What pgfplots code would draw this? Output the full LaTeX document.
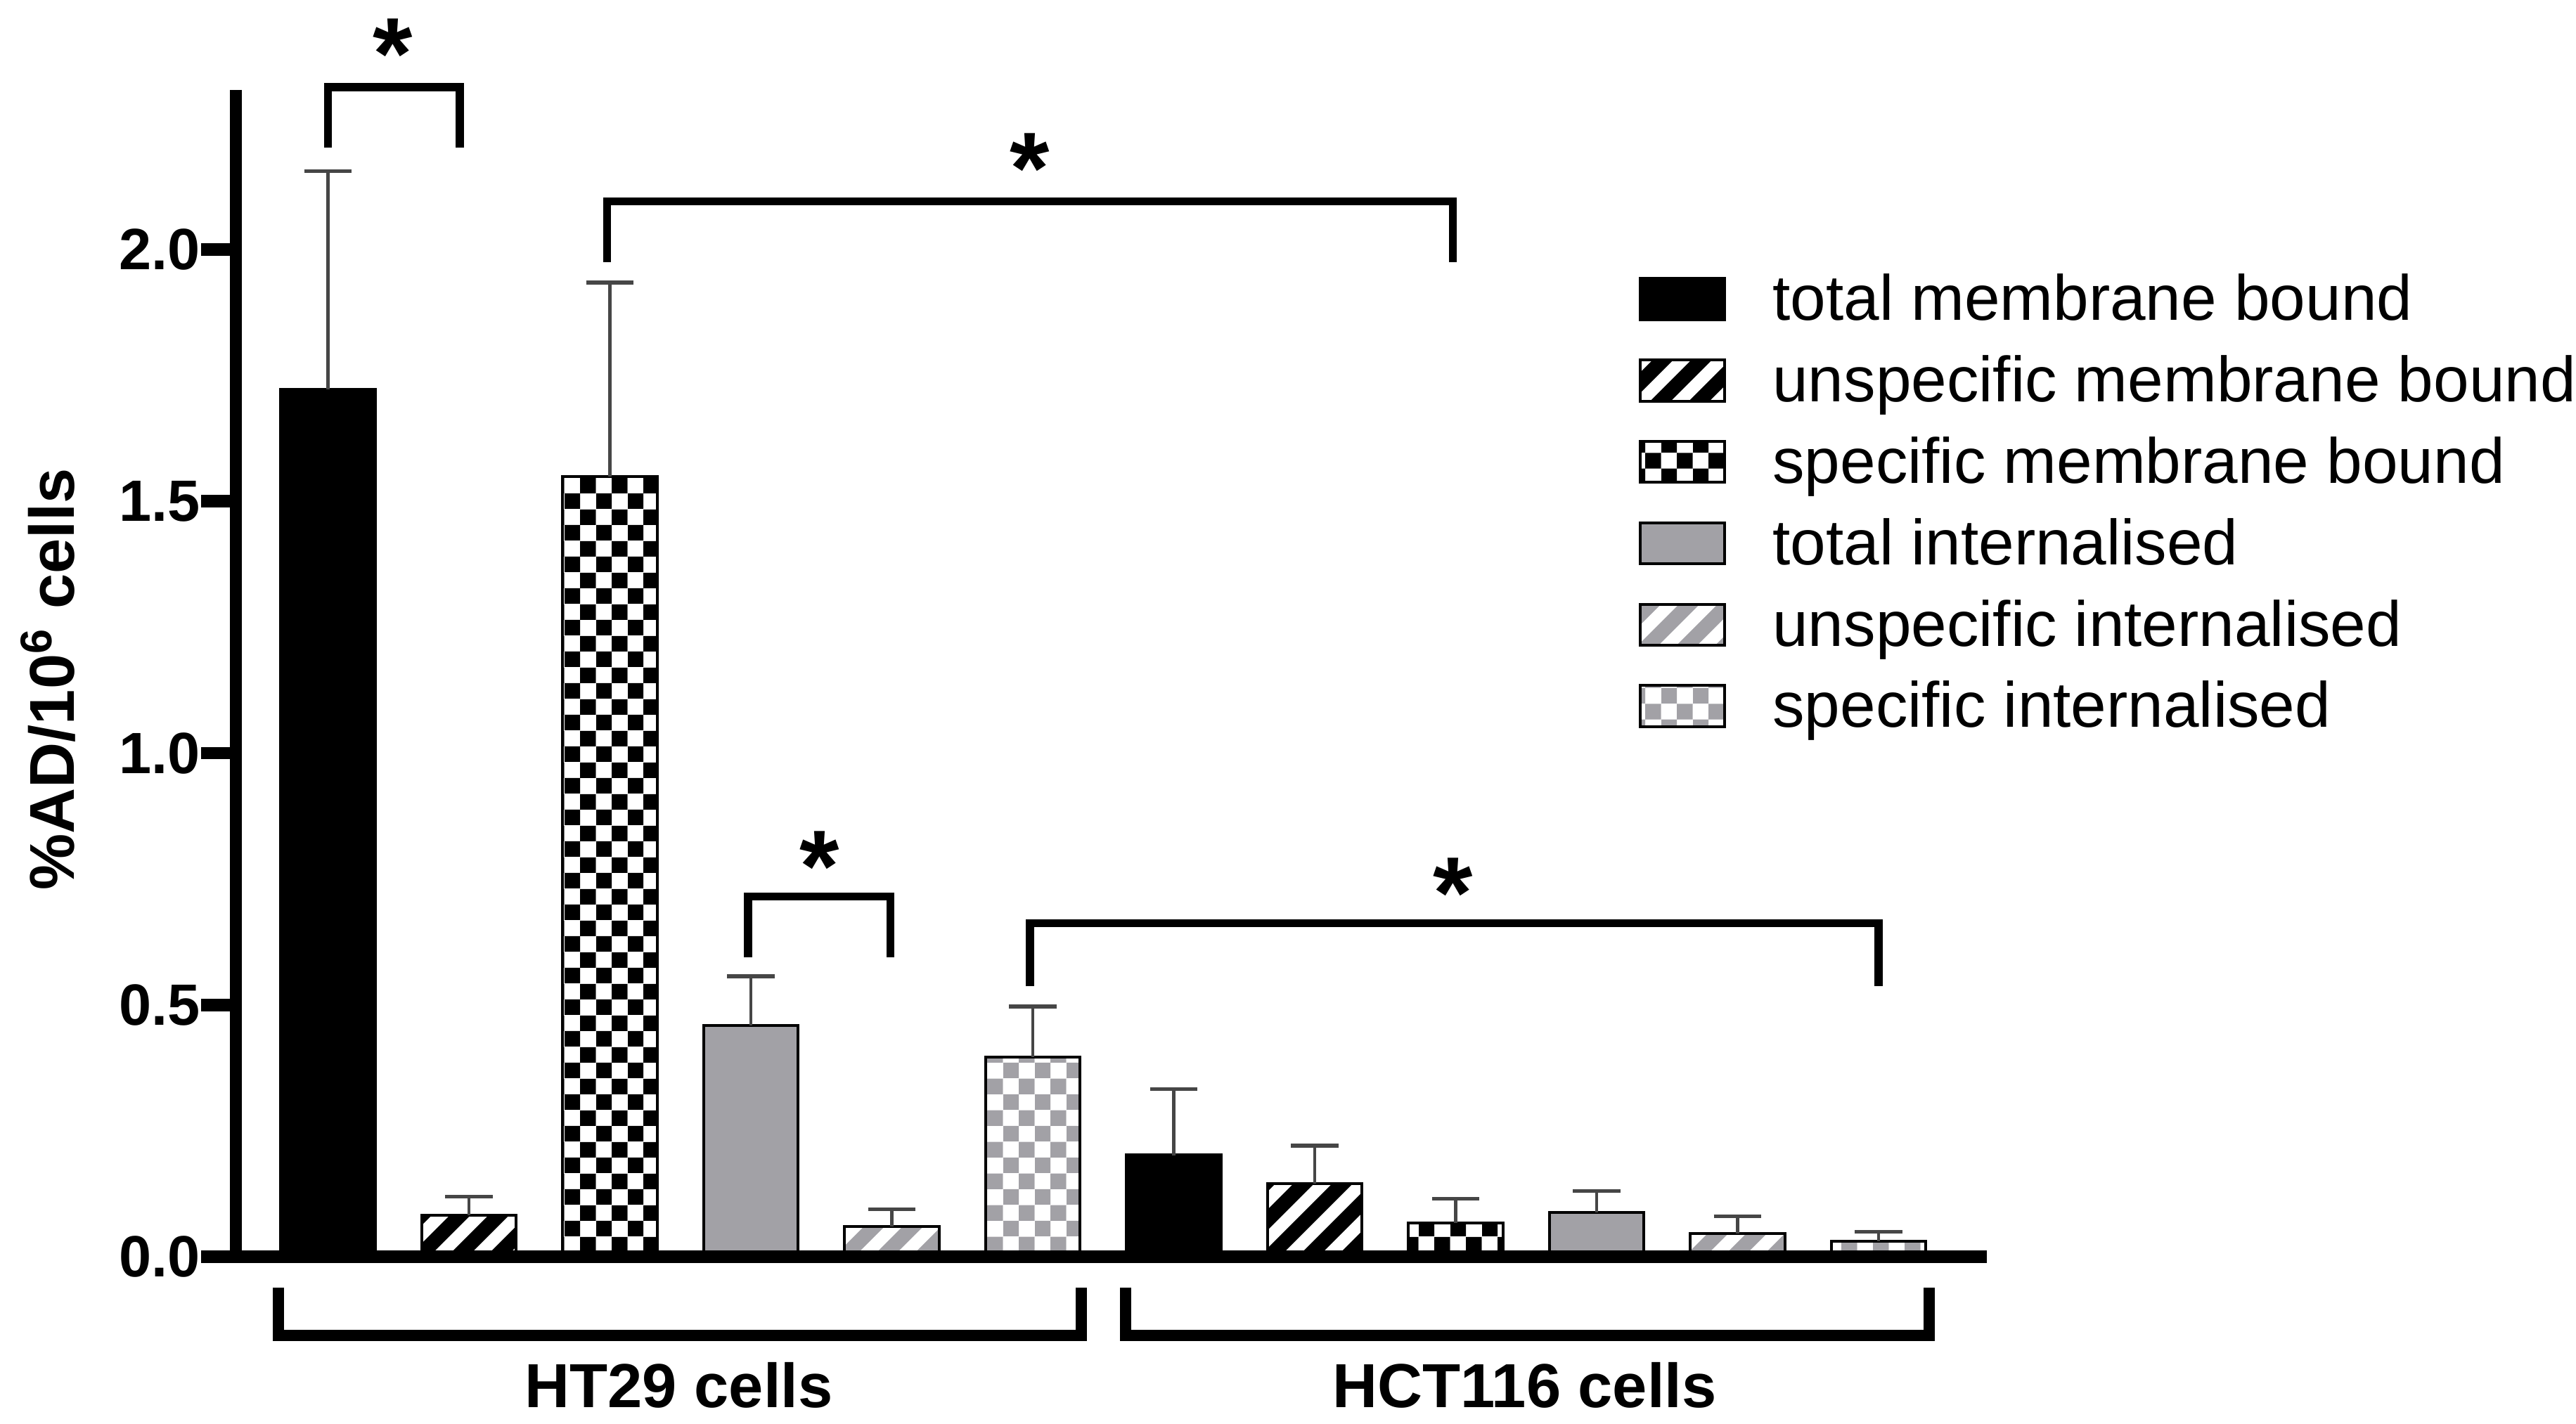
\documentclass[border=0pt]{standalone}
\usepackage{fontspec}
\setmainfont{Liberation Sans}
\usepackage{pgfplots}
\pgfplotsset{compat=1.18}
\usetikzlibrary{patterns}

\definecolor{bargray}{RGB}{162,161,166}
\definecolor{errgray}{RGB}{70,70,70}

% white 45 degree stripes on a coloured ground
\pgfdeclarepatterninherentlycolored{hatchblack}{\pgfpointorigin}{\pgfqpoint{6.83pt}{6.83pt}}{\pgfqpoint{6.83pt}{6.83pt}}{
  \pgfsetfillcolor{black}
  \pgfpathrectangle{\pgfpointorigin}{\pgfqpoint{6.83pt}{6.83pt}}\pgfusepath{fill}
  \pgfsetstrokecolor{white}\pgfsetlinewidth{2.2pt}
  \pgfpathmoveto{\pgfqpoint{-2pt}{-2pt}}\pgfpathlineto{\pgfqpoint{8.83pt}{8.83pt}}
  \pgfpathmoveto{\pgfqpoint{4.83pt}{-2pt}}\pgfpathlineto{\pgfqpoint{8.83pt}{2pt}}
  \pgfpathmoveto{\pgfqpoint{-2pt}{4.83pt}}\pgfpathlineto{\pgfqpoint{2pt}{8.83pt}}
  \pgfusepath{stroke}
}
\pgfdeclarepatterninherentlycolored{hatchgray}{\pgfpointorigin}{\pgfqpoint{6.83pt}{6.83pt}}{\pgfqpoint{6.83pt}{6.83pt}}{
  \pgfsetfillcolor{bargray}
  \pgfpathrectangle{\pgfpointorigin}{\pgfqpoint{6.83pt}{6.83pt}}\pgfusepath{fill}
  \pgfsetstrokecolor{white}\pgfsetlinewidth{2.2pt}
  \pgfpathmoveto{\pgfqpoint{-2pt}{-2pt}}\pgfpathlineto{\pgfqpoint{8.83pt}{8.83pt}}
  \pgfpathmoveto{\pgfqpoint{4.83pt}{-2pt}}\pgfpathlineto{\pgfqpoint{8.83pt}{2pt}}
  \pgfpathmoveto{\pgfqpoint{-2pt}{4.83pt}}\pgfpathlineto{\pgfqpoint{2pt}{8.83pt}}
  \pgfusepath{stroke}
}
% checkerboards on white
\pgfdeclarepatterninherentlycolored{checkblack}{\pgfpointorigin}{\pgfqpoint{5.54pt}{5.54pt}}{\pgfqpoint{5.54pt}{5.54pt}}{
  \pgfsetfillcolor{white}
  \pgfpathrectangle{\pgfpointorigin}{\pgfqpoint{5.54pt}{5.54pt}}\pgfusepath{fill}
  \pgfsetfillcolor{black}
  \pgfpathrectangle{\pgfpointorigin}{\pgfqpoint{2.77pt}{2.77pt}}
  \pgfpathrectangle{\pgfqpoint{2.77pt}{2.77pt}}{\pgfqpoint{2.77pt}{2.77pt}}
  \pgfusepath{fill}
}
\pgfdeclarepatterninherentlycolored{checkgray}{\pgfpointorigin}{\pgfqpoint{5.54pt}{5.54pt}}{\pgfqpoint{5.54pt}{5.54pt}}{
  \pgfsetfillcolor{white}
  \pgfpathrectangle{\pgfpointorigin}{\pgfqpoint{5.54pt}{5.54pt}}\pgfusepath{fill}
  \pgfsetfillcolor{bargray}
  \pgfpathrectangle{\pgfpointorigin}{\pgfqpoint{2.77pt}{2.77pt}}
  \pgfpathrectangle{\pgfqpoint{2.77pt}{2.77pt}}{\pgfqpoint{2.77pt}{2.77pt}}
  \pgfusepath{fill}
}

\pgfplotsset{
  box legend/.style={/pgfplots/legend image code/.code={%
    \draw[##1] (0pt,-2.71pt) rectangle (14.8pt,4.54pt);}},
  barbase/.style={
    bar shift=0pt, bar width=0.67, line width=0.5pt,
    box legend,
    error bars/y dir=plus, error bars/y explicit,
    error bars/error bar style={line width=0.55pt, errgray},
    error bars/error mark options={rotate=90, mark size=4.2pt, line width=0.65pt, errgray},
  },
}
\tikzset{sigstar/.style={font=\fontsize{18}{18}\selectfont\bfseries, yshift=-3.5pt}}

\begin{document}
\begin{tikzpicture}
\begin{axis}[
  name=ax,
  x=0.8755cm, y=3.130cm,
  xmin=0.347, xmax=12.77, ymin=0, ymax=2.316,
  ybar,
  axis x line*=bottom, axis y line*=left,
  axis line style={line width=2.2pt},
  axis on top,
  clip=false,
  xtick=\empty,
  ytick={0,0.5,1,1.5,2},
  tick align=outside,
  major tick length=6.1pt,
  ytick style={line width=2.2pt, black},
  /pgf/number format/assume math mode=true,
  yticklabel style={font=\fontsize{10.3}{12}\selectfont\bfseries, xshift=3.3pt,
    /pgf/number format/fixed, /pgf/number format/fixed zerofill,
    /pgf/number format/precision=1},
  ylabel={\%AD/10\textsuperscript{6} cells},
  ylabel style={font=\fontsize{11.2}{13}\selectfont\bfseries,
    at={(axis description cs:-0.0925,0.4952)}, anchor=base},
  legend style={at={(0.7910,0.8627)}, anchor=north west,
    draw=none, fill=none,
    row sep=-0.3pt, column sep=6.3pt,
    nodes={inner sep=2pt, text depth=0.25em},
    font=\fontsize{11.3}{13.5}\selectfont},
  legend cell align=left,
]
\addplot[barbase, fill=black, draw=black] table[x=x,y=y,y error=e]{
x y e
1 1.722 0.433
7 0.202 0.131
};
\addlegendentry{total membrane bound}
\addplot[barbase, pattern=hatchblack, draw=black] table[x=x,y=y,y error=e]{
x y e
2 0.083 0.037
8 0.145 0.076
};
\addlegendentry{unspecific membrane bound}
\addplot[barbase, pattern=checkblack, draw=black] table[x=x,y=y,y error=e]{
x y e
3 1.549 0.385
9 0.068 0.048
};
\addlegendentry{specific membrane bound}
\addplot[barbase, fill=bargray, draw=black] table[x=x,y=y,y error=e]{
x y e
4 0.459 0.098
10 0.088 0.043
};
\addlegendentry{total internalised}
\addplot[barbase, pattern=hatchgray, draw=black] table[x=x,y=y,y error=e]{
x y e
5 0.061 0.034
11 0.047 0.034
};
\addlegendentry{unspecific internalised}
\addplot[barbase, pattern=checkgray, draw=black] table[x=x,y=y,y error=e]{
x y e
6 0.396 0.101
12 0.031 0.019
};
\addlegendentry{specific internalised}

% significance brackets
\draw[line width=1.4pt] (axis cs:1.0,2.202) -- (axis cs:1.0,2.322) -- (axis cs:1.935,2.322) -- (axis cs:1.935,2.202);
\draw[line width=1.4pt] (axis cs:2.98,1.975) -- (axis cs:2.98,2.095) -- (axis cs:8.98,2.095) -- (axis cs:8.98,1.975);
\draw[line width=1.4pt] (axis cs:3.98,0.595) -- (axis cs:3.98,0.715) -- (axis cs:4.99,0.715) -- (axis cs:4.99,0.595);
\draw[line width=1.4pt] (axis cs:5.98,0.537) -- (axis cs:5.98,0.662) -- (axis cs:12.0,0.662) -- (axis cs:12.0,0.537);
\node[sigstar] at (axis cs:1.46,2.427) {*};
\node[sigstar] at (axis cs:5.98,2.200) {*};
\node[sigstar] at (axis cs:4.49,0.815) {*};
\node[sigstar] at (axis cs:8.98,0.761) {*};

% group brackets and labels
\draw[line width=2pt] (axis cs:0.65,-0.061) -- (axis cs:0.65,-0.1555) -- (axis cs:6.343,-0.1555) -- (axis cs:6.343,-0.061);
\draw[line width=2pt] (axis cs:6.66,-0.061) -- (axis cs:6.66,-0.1555) -- (axis cs:12.36,-0.1555) -- (axis cs:12.36,-0.061);
\node[font=\fontsize{11}{13}\selectfont\bfseries, anchor=base] at (axis cs:3.49,-0.299) {HT29 cells};
\node[font=\fontsize{11}{13}\selectfont\bfseries, anchor=base] at (axis cs:9.49,-0.299) {HCT116 cells};
\end{axis}
\pgfresetboundingbox
\path ([shift={(-41.69pt,-29.53pt)}]ax.south west) rectangle ([shift={(413.55pt,222.19pt)}]ax.south west);
\end{tikzpicture}
\end{document}
